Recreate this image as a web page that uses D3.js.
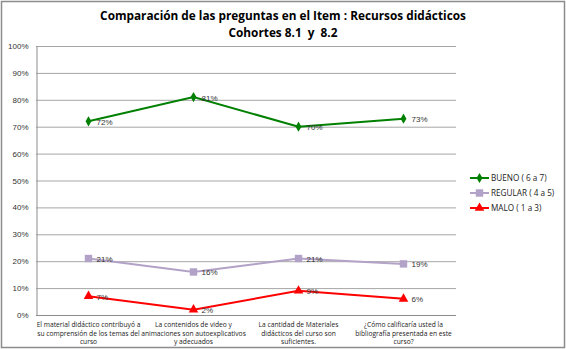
<!DOCTYPE html>
<html>
<head>
<meta charset="utf-8">
<script src="https://cdn.jsdelivr.net/npm/d3@7"></script>
<style>
  body { margin: 0; background: #fff; }
  svg { display: block; font-family: "Open Sans", sans-serif; }
  text { white-space: pre; }
</style>
</head>
<body>
<div id="chart"></div>
<script>
const categories = [
  ['El material didáctico contribuyó a', 'su comprensión de los temas del', 'curso'],
  ['La contenidos de video y', 'animaciones son autoexplicativos', 'y adecuados'],
  ['La cantidad de Materiales', 'didácticos del curso son', 'suficientes.'],
  ['¿Cómo calificaría usted la', 'bibliografía presentada en este', 'curso?']
];
const bueno = [72, 81, 70, 73];
const regular = [21, 16, 21, 19];
const malo = [7, 2, 9, 6];
const yTicks = [0, 10, 20, 30, 40, 50, 60, 70, 80, 90, 100];

const series = [
  { name: 'BUENO ( 6 a 7)', values: bueno, color: '#008000', symbol: d3.symbolDiamond, size: 30 },
  { name: 'REGULAR ( 4 a 5)', values: regular, color: '#b3a2c7', symbol: d3.symbolSquare, size: 55 },
  { name: 'MALO ( 1 a 3)', values: malo, color: '#ff0000', symbol: d3.symbolTriangle, size: 40 }
];

const W = 566, H = 349;
const svg = d3.select('#chart').append('svg')
  .attr('width', W).attr('height', H);

svg.append('rect')
  .attr('x', 1.5).attr('y', 1.5)
  .attr('width', W - 3).attr('height', H - 3)
  .attr('fill', '#fff').attr('stroke', '#8c8c8c').attr('stroke-width', 1.5);

const plotL = 36, plotR = 456, plotT = 46, plotB = 315;

const x = d3.scaleBand()
  .domain(d3.range(categories.length))
  .range([plotL, plotR]);
const y = d3.scaleLinear().domain([0, 100]).range([plotB, plotT]);

// title
const title = svg.append('text')
  .attr('text-anchor', 'middle')
  .attr('font-weight', 'bold')
  .attr('font-size', 11.8)
  .attr('fill', '#000');
title.append('tspan').attr('x', 283).attr('y', 20)
  .text('Comparación de las preguntas en el Item : Recursos didácticos');
title.append('tspan').attr('x', 283).attr('y', 37)
  .text('Cohortes 8.1  y  8.2');

// gridlines
svg.append('g').selectAll('line')
  .data(yTicks.filter(t => t > 0))
  .join('line')
  .attr('x1', plotL).attr('x2', plotR)
  .attr('y1', d => y(d) + 0.5).attr('y2', d => y(d) + 0.5)
  .attr('stroke', '#a6a6a6');

// y axis
const yAxis = svg.append('g')
  .attr('transform', `translate(${plotL + 0.5},0)`)
  .call(d3.axisLeft(y).tickValues(yTicks).tickFormat(d => d + '%').tickSize(0).tickPadding(8));
yAxis.select('.domain').attr('stroke', '#8c8c8c');
yAxis.selectAll('text').attr('font-size', 8).attr('fill', '#333')
  .attr('font-family', '"Liberation Sans", sans-serif');

// x axis line
svg.append('line')
  .attr('x1', plotL).attr('x2', plotR)
  .attr('y1', plotB + 0.5).attr('y2', plotB + 0.5)
  .attr('stroke', '#8c8c8c');

// x labels
const xl = svg.append('g').selectAll('text')
  .data(categories)
  .join('text')
  .attr('text-anchor', 'middle')
  .attr('font-size', 6.7)
  .attr('fill', '#222');
xl.each(function(lines, i) {
  d3.select(this).selectAll('tspan')
    .data(lines)
    .join('tspan')
    .attr('x', x(i) + x.bandwidth() / 2)
    .attr('y', (d, j) => 327 + j * 8.7)
    .text(d => d);
});

// series
const line = d3.line()
  .x((d, i) => x(i) + x.bandwidth() / 2)
  .y(d => y(d));

series.forEach(s => {
  const g = svg.append('g');
  g.append('path')
    .attr('d', line(s.values))
    .attr('fill', 'none')
    .attr('stroke', s.color)
    .attr('stroke-width', 2);
  g.selectAll('path.m')
    .data(s.values)
    .join('path')
    .attr('class', 'm')
    .attr('transform', (d, i) => `translate(${x(i) + x.bandwidth() / 2},${y(d)})`)
    .attr('d', d3.symbol().type(s.symbol).size(s.size))
    .attr('fill', s.color);
  g.selectAll('text')
    .data(s.values)
    .join('text')
    .attr('x', (d, i) => x(i) + x.bandwidth() / 2 + 8)
    .attr('y', d => y(d) + 3.5)
    .attr('font-size', 8)
    .attr('font-family', '"Liberation Sans", sans-serif')
    .attr('fill', '#333')
    .text(d => d + '%');
});

// legend
const leg = svg.append('g');
series.forEach((s, i) => {
  const ly = 178 + i * 15;
  leg.append('line')
    .attr('x1', 470).attr('x2', 489)
    .attr('y1', ly).attr('y2', ly)
    .attr('stroke', s.color).attr('stroke-width', 2);
  leg.append('path')
    .attr('transform', `translate(479.5,${ly})`)
    .attr('d', d3.symbol().type(s.symbol).size(s.size))
    .attr('fill', s.color);
  leg.append('text')
    .attr('x', 491).attr('y', ly + 3)
    .attr('font-size', 8.2)
    .attr('fill', '#222')
    .text(s.name);
});
</script>
</body>
</html>
